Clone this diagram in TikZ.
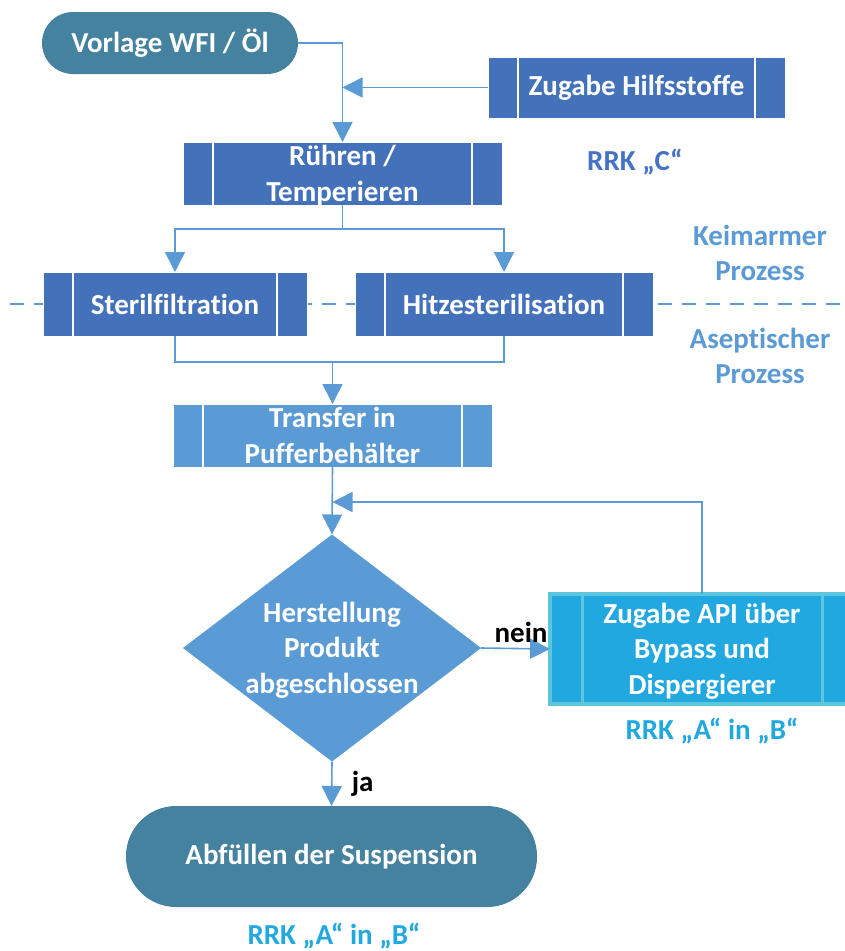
\documentclass[tikz,border=0pt]{standalone}
\usepackage{fontspec}
\setmainfont{Carlito}[Ligatures=NoCommon]
\usetikzlibrary{arrows.meta,calc}
\definecolor{cTeal}{HTML}{45829F}
\definecolor{cDark}{HTML}{4472BA}
\definecolor{cLight}{HTML}{5B9BD5}
\definecolor{cCyan}{HTML}{22A8E0}
\definecolor{cFrame}{HTML}{5BC6DC}
\definecolor{cRRK}{HTML}{4472C4}
\newcommand\nolig{\kern0pt}
\tikzset{
  every node/.style={font=\fontsize{29}{35.5}\selectfont\bfseries, inner sep=0pt, outer sep=0pt},
  txt/.style={text=white, align=center},
  procbox/.style={rectangle, fill=#1, draw=white, line width=1pt, txt,
    path picture={\draw[white, line width=1.5pt]
      ([xshift=30pt]path picture bounding box.north west) -- ([xshift=30pt]path picture bounding box.south west)
      ([xshift=-30pt]path picture bounding box.north east) -- ([xshift=-30pt]path picture bounding box.south east);}},
  apibox/.style={rectangle, fill=cCyan, draw=cFrame, line width=4pt, txt,
    path picture={\draw[cFrame, line width=3pt]
      ([xshift=32pt]path picture bounding box.north west) -- ([xshift=32pt]path picture bounding box.south west)
      ([xshift=-32pt]path picture bounding box.north east) -- ([xshift=-32pt]path picture bounding box.south east);}},
  pill/.style={rectangle, fill=cTeal, txt},
  conn/.style={draw=cLight, line width=1.6pt},
  arr/.style={conn, -{Triangle[length=20pt,width=20pt]}},
  sidetext/.style={align=center, text=#1},
  answer/.style={text=black}
}
\begin{document}
\begin{tikzpicture}[x=1pt,y=-1pt]
\useasboundingbox (0,0) rectangle (845,951);
\clip (0,0) rectangle (845,951);

% dashed separator
\draw[cLight, line width=2pt, dash pattern=on 14pt off 10pt] (10,304) -- (842,304);

% nodes
\node[pill, rounded corners=31pt, minimum width=256pt, minimum height=62pt] (vorlage) at (170,43) {Vorlage WFI / Öl};
\node[procbox=cDark, minimum width=297pt, minimum height=61pt] (hilfs) at (636.5,87.5) {Zugabe Hilfsstof\nolig fe};
\node[procbox=cDark, minimum width=319pt, minimum height=63pt] (ruehren) at (342.5,173.5) {Rühren /\\Tem\smash{p}erieren};
\node[procbox=cDark, minimum width=264pt, minimum height=64pt] (steril) at (175,304) {Sterilf\nolig il\nolig t\nolig ration};
\node[procbox=cDark, minimum width=298pt, minimum height=64pt] (hitze) at (504,304) {Hitzesterilisat\nolig ion};
\node[procbox=cLight, minimum width=319pt, minimum height=63pt] (transfer) at (332.5,435.5) {Transfer in\\Puf\nolig ferbehälter};
\node[minimum width=298pt, minimum height=227pt] (dia) at (332,648) {};
\fill[cLight] (dia.north) -- (dia.east) -- (dia.south) -- (dia.west) -- cycle;
\node[txt] (diatext) at ($(dia.center)+(0,2)$) {Herstellung\\Produkt\\abgeschlossen};
\node[apibox, minimum width=304pt, minimum height=110pt] (api) at (702,649) {};
\node[txt] (apitext) at ($(api.center)+(0,2)$) {Zugabe API über\\Bypass und\\Dispergierer};
\node[pill, rounded corners=50pt, minimum width=411pt, minimum height=101pt] (abf) at (331.5,856.5) {Abfüllen der Suspension};

% side texts
\node[sidetext=cRRK] (rrkc) at (635,162) {RRK „C“};
\node[sidetext=cLight] (keim) at (760,253) {Keimarmer\\Prozess};
\node[sidetext=cLight] (asep) at (760,356) {Asept\nolig ischer\\Prozess};
\node[sidetext=cCyan] (rrkab1) at (712,731) {RRK „A“ in „B“};
\node[sidetext=cCyan] (rrkab2) at (334,936) {RRK „A“ in „B“};

% connectors
\draw[arr] (vorlage.east) -| (ruehren.north);
\coordinate (j1) at (ruehren.north |- hilfs.west);
\draw[arr] (hilfs.west) -- (j1);
\coordinate (j2) at ($(ruehren.south)+(0,24)$);
\draw[conn] (ruehren.south) -- (j2);
\draw[arr] (j2) -| (steril.north);
\draw[arr] (j2) -| (hitze.north);
\coordinate (j3) at (transfer.north |- 0,362);
\draw[conn] (steril.south) |- (j3) -| (hitze.south);
\draw[arr] (j3) -- (transfer.north);
\draw[arr] (transfer.south) -- (dia.north);
\draw[arr] (dia.east) -- node[answer, above=6pt, pos=0.58] (nein) {nein} (api.west);
\coordinate (j4) at (transfer.south |- 0,502);
\draw[arr] (api.north) |- (j4);
\draw[arr] (dia.south) -- node[answer, right=20pt] (ja) {ja} (abf.north);
\end{tikzpicture}
\end{document}
